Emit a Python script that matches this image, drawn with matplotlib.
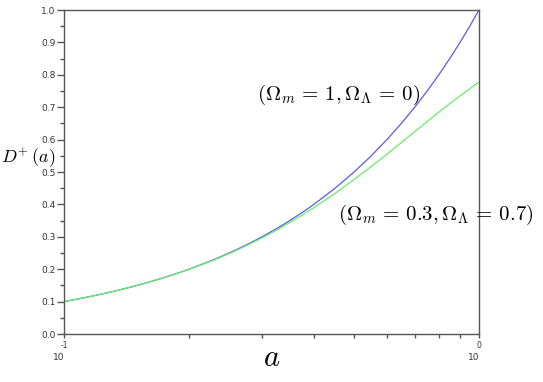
import matplotlib
matplotlib.use("Agg")
from matplotlib import pyplot as plt, transforms
from matplotlib.ticker import FixedLocator, NullFormatter
import numpy as np

plt.rcParams['mathtext.fontset'] = 'cm'

# scale factor samples
scale_a = [0.10, 0.11, 0.12, 0.13, 0.14, 0.15, 0.16, 0.17, 0.18, 0.19,
           0.20, 0.22, 0.24, 0.26, 0.28, 0.30, 0.325, 0.35, 0.375, 0.40,
           0.45, 0.50, 0.55, 0.60, 0.65, 0.70, 0.75, 0.80, 0.85, 0.90,
           0.95, 1.00]
# Omega_m = 1, Omega_L = 0
growth_eds = [0.10, 0.11, 0.12, 0.13, 0.14, 0.15, 0.16, 0.17, 0.18, 0.19,
              0.20, 0.22, 0.24, 0.26, 0.28, 0.30, 0.325, 0.35, 0.375, 0.40,
              0.45, 0.50, 0.55, 0.60, 0.65, 0.70, 0.75, 0.80, 0.85, 0.90,
              0.95, 1.00]
# Omega_m = 0.3, Omega_L = 0.7
growth_lcdm = [0.100, 0.110, 0.120, 0.130, 0.140, 0.1499, 0.1598, 0.1698, 0.1797, 0.1895,
               0.1993, 0.2190, 0.2385, 0.2580, 0.2774, 0.2967, 0.3205, 0.3440, 0.3672, 0.3900,
               0.4340, 0.4770, 0.5170, 0.5550, 0.5910, 0.6250, 0.6555, 0.6850, 0.7110, 0.7350,
               0.7570, 0.7780]

xtick_pos = [0.1, 1.0]
xtick_exp = ['-1', '0']

fig = plt.figure(figsize=(5.43, 3.82), dpi=100)
ax = fig.add_axes([64/543, 1 - 334/382, 415/543, 324/382])

ax.plot(scale_a, growth_eds, color='#5a5aee', lw=0.9)
ax.plot(scale_a, growth_lcdm, color='#66ee66', lw=0.9)

ax.set_xscale('log')
ax.set_xlim(0.1, 1.0)
ax.set_ylim(0.0, 1.0)

edge = '#555555'
for s in ax.spines.values():
    s.set_color(edge)
    s.set_linewidth(1.0)

ax.set_yticks(np.arange(0, 1.01, 0.1))
ax.set_yticklabels(['%.1f' % v for v in np.arange(0, 1.01, 0.1)])
ax.yaxis.set_minor_locator(FixedLocator(np.arange(0.05, 1.0, 0.1)))
ax.tick_params(axis='y', which='major', length=5, width=1, color=edge,
               labelsize=6.5, labelcolor='#333333', pad=1)
ax.tick_params(axis='y', which='minor', length=3, width=1, color=edge)

ax.xaxis.set_major_locator(FixedLocator(xtick_pos))
ax.xaxis.set_minor_locator(FixedLocator([k / 10 for k in range(2, 10)]))
ax.xaxis.set_major_formatter(NullFormatter())
ax.xaxis.set_minor_formatter(NullFormatter())
ax.tick_params(axis='x', which='both', length=3, width=1, color=edge)

# "10" with exponent, drawn like the original plot
tr = transforms.blended_transform_factory(ax.transData, fig.transFigure)
for xp, ex in zip(xtick_pos, xtick_exp):
    ax.text(xp, 1 - 346/382, ex, transform=tr, ha='center', va='center',
            fontsize=5.5, color='#333333')
    ax.text(xp, 1 - 357/382, '10', transform=tr, ha='right', va='center',
            fontsize=6.5, color='#333333')

fig.text(272/543, 1 - 358/382, r'$a$', ha='center', va='center', fontsize=22)
fig.text(1/543, 1 - 158/382, r'$D^{+}\,(a)$', ha='left', va='center', fontsize=13)

ax.text(257/543, 1 - 95/382, r'$(\Omega_m\,=\,1, \Omega_\Lambda\,=\,0)$',
        transform=fig.transFigure, ha='left', va='center', fontsize=15)
ax.text(338/543, 1 - 215/382, r'$(\Omega_m\,=\,0.3, \Omega_\Lambda\,=\,0.7)$',
        transform=fig.transFigure, ha='left', va='center', fontsize=15)

fig.savefig('out.png', dpi=100)
